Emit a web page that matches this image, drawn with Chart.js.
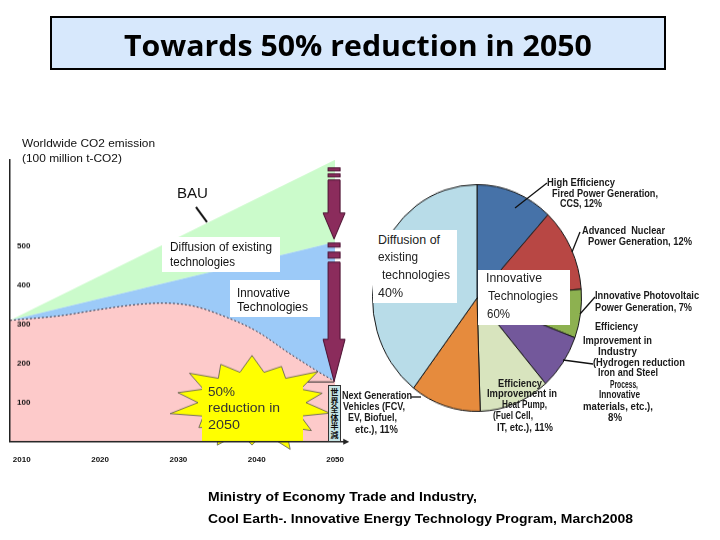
<!DOCTYPE html>
<html><head><meta charset="utf-8">
<script src="https://cdn.jsdelivr.net/npm/chart.js@4.4.0/dist/chart.umd.min.js"></script>
<style>
html,body{margin:0;padding:0;background:#fff;}
#page{position:relative;width:720px;height:540px;overflow:hidden;font-family:"Liberation Sans",Arial,sans-serif;}
.abs{position:absolute;}
.t{position:absolute;white-space:pre;transform-origin:0 50%;line-height:1;}
.wbox{position:absolute;background:#fff;}
#title{position:absolute;left:50px;top:16px;width:612px;height:50px;border:2px solid #000;background:#d7e8fc;}
#cjk{position:absolute;left:328px;top:385px;width:11px;height:55px;background:#c6e4e4;border:1px solid #333;
 writing-mode:vertical-rl;font-family:"Noto Sans CJK JP",sans-serif;font-size:8px;font-weight:bold;line-height:11px;text-align:center;color:#111;letter-spacing:0.5px;}
</style></head>
<body><div id="page">
<div id="title"></div>
<div id="leftWrap" class="abs" style="left:0px;top:150px;width:352px;height:300px;"><canvas id="area"></canvas></div>
<div id="pieWrap" class="abs" style="left:372px;top:193px;width:210px;height:210px;transform:scaleY(1.085);transform-origin:50% 50%;"><canvas id="pie"></canvas></div>
<svg class="abs" style="left:0;top:0" width="720" height="540">
 <g stroke="#111" stroke-width="1.3" fill="none">
  <line x1="515" y1="208" x2="547" y2="183"/>
  <line x1="580" y1="232" x2="572" y2="252"/>
  <line x1="595" y1="297" x2="580" y2="314"/>
  <line x1="563" y1="360" x2="593" y2="364"/>
  <line x1="411" y1="397" x2="421" y2="397"/>
 </g>
</svg>
<div class="wbox" style="left:162px;top:237px;width:118px;height:35px;"></div>
<div class="wbox" style="left:230px;top:280px;width:90px;height:37px;"></div>
<div class="wbox" style="left:373px;top:230px;width:84px;height:73px;"></div>
<div class="wbox" style="left:478px;top:270px;width:92px;height:55px;"></div>
<div id="cjk">世界全体半減</div>
<div id="texts"></div>
</div>
<script>
// ---- data ----
const xTicks = [2010, 2020, 2030, 2040, 2050];
const yTicks = [100, 200, 300, 400, 500];
const bauYears = [2008.5, 2050];
const bauValues = [310, 720];
const existYears = [2008.5, 2050];
const existValues = [310, 510];
const innovYears = [2008.5, 2015, 2020, 2025, 2028, 2032, 2036, 2040, 2044, 2048, 2050];
const innovValues = [310, 322, 338, 351, 354, 346, 319, 282, 228, 177, 154];

const pieLabels = ["High Efficiency Fired Power Generation, CCS", "Advanced Nuclear Power Generation",
  "Innovative Photovoltaic Power Generation", "Efficiency Improvement in Industry",
  "Efficiency Improvement in Heat Pump", "Next Generation Vehicles", "Diffusion of existing technologies"];
const pieValues = [12, 12, 7, 8, 11, 11, 40];
const pieColors = ["#4672a8", "#b84744", "#8db150", "#73589b", "#d8e4be", "#e68b3d", "#b8dce8"];

// ---- text layout: [text, left, right, centerY, size, weight, color, family] ----
const F = '"Liberation Sans",Arial,sans-serif';
const textItems = [
 ["Towards 50% reduction in 2050", 124, 592, 44, 29, 700, "#000", '"Open Sans",sans-serif'],
 ["Worldwide CO2 emission", 22, 155, 143, 11, 400, "#111", F],
 ["(100 million t-CO2)", 22, 122, 158, 11, 400, "#111", F],
 ["BAU", 177, 208, 192, 15, 400, "#111", F],
 ["Diffusion of existing", 170, 272, 247, 12, 400, "#111", F],
 ["technologies", 170, 235, 262, 12, 400, "#111", F],
 ["Innovative", 237, 290, 293, 12, 400, "#111", F],
 ["Technologies", 237, 308, 307, 12, 400, "#111", F],
 ["50%", 208, 235, 391, 13, 400, "#333", F],
 ["reduction in", 208, 280, 407, 13, 400, "#333", F],
 ["2050", 208, 240, 424, 13, 400, "#333", F],
 ["Diffusion of", 378, 440, 240, 12, 400, "#222", F],
 ["existing", 378, 418, 257, 12, 400, "#222", F],
 ["technologies", 382, 450, 275, 12, 400, "#222", F],
 ["40%", 378, 403, 293, 12, 400, "#222", F],
 ["Innovative", 486, 542, 278, 12, 400, "#222", F],
 ["Technologies", 488, 558, 296, 12, 400, "#222", F],
 ["60%", 487, 510, 314, 12, 400, "#222", F],
 ["High Efficiency", 547, 615, 183, 10, 700, "#1a1a1a", F],
 ["Fired Power Generation,", 552, 658, 194, 10, 700, "#1a1a1a", F],
 ["CCS, 12%", 560, 602, 204, 10, 700, "#1a1a1a", F],
 ["Advanced  Nuclear", 582, 665, 231, 10, 700, "#1a1a1a", F],
 ["Power Generation, 12%", 588, 692, 242, 10, 700, "#1a1a1a", F],
 ["Innovative Photovoltaic", 595, 699, 296, 10, 700, "#1a1a1a", F],
 ["Power Generation, 7%", 595, 692, 308, 10, 700, "#1a1a1a", F],
 ["Efficiency", 595, 638, 327, 10, 700, "#1a1a1a", F],
 ["Improvement in", 583, 652, 341, 10, 700, "#1a1a1a", F],
 ["Industry", 598, 637, 352, 10, 700, "#1a1a1a", F],
 ["(Hydrogen reduction", 593, 685, 363, 10, 700, "#1a1a1a", F],
 ["Iron and Steel", 598, 658, 373, 10, 700, "#1a1a1a", F],
 ["Process,", 610, 638, 385, 10, 700, "#1a1a1a", F],
 ["Innovative", 599, 640, 395, 10, 700, "#1a1a1a", F],
 ["materials, etc.),", 583, 653, 407, 10, 700, "#1a1a1a", F],
 ["8%", 608, 622, 418, 10, 700, "#1a1a1a", F],
 ["Efficiency", 498, 542, 384, 10, 700, "#1a1a1a", F],
 ["Improvement in", 487, 557, 394, 10, 700, "#1a1a1a", F],
 ["Heat Pump,", 502, 547, 405, 10, 700, "#1a1a1a", F],
 ["(Fuel Cell,", 493, 533, 416, 10, 700, "#1a1a1a", F],
 ["IT, etc.), 11%", 497, 553, 428, 10, 700, "#1a1a1a", F],
 ["Next Generation", 342, 412, 396, 10, 700, "#1a1a1a", F],
 ["Vehicles (FCV,", 343, 405, 407, 10, 700, "#1a1a1a", F],
 ["EV, Biofuel,", 348, 397, 418, 10, 700, "#1a1a1a", F],
 ["etc.), 11%", 355, 398, 430, 10, 700, "#1a1a1a", F],
 ["Ministry of Economy Trade and Industry,", 208, 477, 496, 13, 700, "#000", F],
 ["Cool Earth-. Innovative Energy Technology Program, March2008", 208, 633, 518, 13, 700, "#000", F]
];

const holder = document.getElementById('texts');
const spans = textItems.map(it => {
  const s = document.createElement('span');
  s.className = 't';
  s.textContent = it[0];
  s.style.left = it[1] + 'px';
  s.style.top = (it[3] - it[4] / 2) + 'px';
  s.style.fontSize = it[4] + 'px';
  s.style.fontWeight = it[5];
  s.style.color = it[6];
  s.style.fontFamily = it[7];
  holder.appendChild(s);
  return s;
});
function fitTexts() {
  spans.forEach((s, i) => {
    const it = textItems[i];
    s.style.transform = 'none';
    const w = s.getBoundingClientRect().width;
    let k = (it[2] - it[1]) / w;
    k = Math.max(0.6, Math.min(1.6, k));
    s.style.transform = 'scaleX(' + k.toFixed(3) + ')';
  });
}

// page coordinates relative to chart area origin (page x=10 left edge, y=441 bottom)
function P(chart, X, Y) {
  const ca = chart.chartArea;
  return [ca.left + X - 10, ca.bottom + Y - 441];
}

function drawArrow(ctx, x, top, tip, stripes, shaftStart, headLen) {
  const sh = 6, hh = 11;
  ctx.save();
  ctx.fillStyle = '#8b2c5c';
  ctx.strokeStyle = '#4a1030';
  ctx.lineWidth = 1;
  stripes.forEach(s => {
    ctx.fillRect(x - sh, top + s[0], sh * 2, s[1] - s[0]);
    ctx.strokeRect(x - sh, top + s[0], sh * 2, s[1] - s[0]);
  });
  const hs = tip - headLen;
  ctx.beginPath();
  ctx.moveTo(x - sh, top + shaftStart);
  ctx.lineTo(x + sh, top + shaftStart);
  ctx.lineTo(x + sh, hs);
  ctx.lineTo(x + hh, hs);
  ctx.lineTo(x, tip);
  ctx.lineTo(x - hh, hs);
  ctx.lineTo(x - sh, hs);
  ctx.closePath();
  ctx.fill();
  ctx.stroke();
  ctx.restore();
}

const deco = {
  id: 'deco',
  afterDatasetsDraw(chart) {
    const ctx = chart.ctx;
    const xs = chart.scales.x, ys = chart.scales.y;
    const ax = xs.getPixelForValue(2050) - 1;
    const yB = ys.getPixelForValue(bauValues[1]);
    const yE = ys.getPixelForValue(existValues[1]);
    const yI = ys.getPixelForValue(innovValues[innovValues.length - 1]);
    // 50% level line
    ctx.save();
    ctx.strokeStyle = '#222'; ctx.lineWidth = 1;
    let a = P(chart, 300, 0);
    ctx.beginPath(); ctx.moveTo(a[0], yI + 0.5); ctx.lineTo(ax, yI + 0.5); ctx.stroke();
    ctx.restore();
    drawArrow(ctx, ax, yB + 8, yE - 3, [[0, 3], [6, 9]], 12, 26);
    drawArrow(ctx, ax, yE + 1, yI, [[0, 4], [9, 15]], 19, 42);
    // starburst
    const c = P(chart, 252, 402);
    const outer = [1.0, 0.85, 1.05, 0.9, 1.0, 0.95, 1.1, 0.9, 1.0, 0.85, 1.05, 0.95, 1.0, 0.9];
    const n = outer.length;
    ctx.save();
    ctx.beginPath();
    for (let i = 0; i < n; i++) {
      const ao = (i / n) * Math.PI * 2 - Math.PI / 2;
      const ai = ao + Math.PI / n;
      const px = c[0] + Math.cos(ao) * 80 * outer[i], py = c[1] + Math.sin(ao) * 47 * outer[i];
      const qx = c[0] + Math.cos(ai) * 54, qy = c[1] + Math.sin(ai) * 31;
      if (i === 0) ctx.moveTo(px, py); else ctx.lineTo(px, py);
      ctx.lineTo(qx, qy);
    }
    ctx.closePath();
    ctx.fillStyle = '#ffff00';
    ctx.fill();
    ctx.strokeStyle = '#555'; ctx.lineWidth = 0.8;
    ctx.stroke();
    const r0 = P(chart, 202, 380);
    ctx.fillRect(r0[0], r0[1], 101, 61);
    // BAU pointer
    const b1 = P(chart, 196, 207), b2 = P(chart, 207, 222);
    ctx.strokeStyle = '#111'; ctx.lineWidth = 2;
    ctx.beginPath(); ctx.moveTo(b1[0], b1[1]); ctx.lineTo(b2[0], b2[1]); ctx.stroke();
    // x-axis arrowhead
    const ca = chart.chartArea;
    ctx.fillStyle = '#222';
    ctx.beginPath();
    ctx.moveTo(ca.right + 4, ca.bottom);
    ctx.lineTo(ca.right - 2, ca.bottom - 3);
    ctx.lineTo(ca.right - 2, ca.bottom + 3);
    ctx.closePath(); ctx.fill();
    ctx.restore();
  }
};

const toXY = (xsArr, vs) => xsArr.map((x, i) => ({x: x, y: vs[i]}));

const areaChart = new Chart(document.getElementById('area'), {
  type: 'line',
  data: {
    datasets: [
      { label: 'Innovative', data: toXY(innovYears, innovValues), fill: 'origin',
        backgroundColor: '#fdcaca', borderColor: '#334', borderWidth: 1, borderDash: [2, 2],
        pointRadius: 0, cubicInterpolationMode: 'monotone' },
      { label: 'Existing', data: toXY(existYears, existValues), fill: '-1',
        backgroundColor: '#9ccaf8', borderWidth: 0, borderColor: 'rgba(0,0,0,0)', pointRadius: 0 },
      { label: 'BAU', data: toXY(bauYears, bauValues), fill: '-1',
        backgroundColor: '#cbfbcb', borderWidth: 0, borderColor: 'rgba(0,0,0,0)', pointRadius: 0 }
    ]
  },
  options: {
    responsive: true, maintainAspectRatio: false, animation: false,
    layout: { padding: { left: 0, right: 0, top: 0, bottom: 0 } },
    plugins: { legend: { display: false }, tooltip: { enabled: false } },
    scales: {
      x: { type: 'linear', min: 2008.5, max: 2051.3, z: 1,
        afterBuildTicks: s => { s.ticks = xTicks.map(v => ({value: v})); },
        grid: { display: false },
        border: { display: true, color: '#222', width: 1.5, z: 1 },
        ticks: { z: 1, autoSkip: false, maxRotation: 0, padding: 5, color: '#111',
          font: { size: 8, weight: 'bold', family: 'Liberation Sans' }, callback: v => String(v) } },
      y: { type: 'linear', min: 0, max: 720, z: 1,
        afterBuildTicks: s => { s.ticks = yTicks.map(v => ({value: v})); },
        grid: { display: false },
        border: { display: true, color: '#222', width: 1.5, z: 1 },
        ticks: { z: 1, mirror: true, padding: 7, color: '#111', autoSkip: false,
          font: { size: 8, weight: 'bold', family: 'Liberation Sans' }, callback: v => String(v) } }
    }
  },
  plugins: [deco]
});

(function align() {
  const wrap = document.getElementById('leftWrap');
  const ca = areaChart.chartArea;
  const w = wrap.offsetWidth, h = wrap.offsetHeight;
  wrap.style.width = (w + 335 - (ca.right - ca.left)) + 'px';
  wrap.style.height = (h + 281 - (ca.bottom - ca.top)) + 'px';
  areaChart.resize();
  const cb = areaChart.chartArea;
  wrap.style.left = (10 - cb.left) + 'px';
  wrap.style.top = (441 - cb.bottom) + 'px';
})();

new Chart(document.getElementById('pie'), {
  type: 'pie',
  data: { labels: pieLabels, datasets: [{ data: pieValues, backgroundColor: pieColors,
    borderColor: '#1a1a1a', borderWidth: 1 }] },
  options: { responsive: true, maintainAspectRatio: false, animation: false,
    layout: { padding: 0 },
    plugins: { legend: { display: false }, tooltip: { enabled: false } } }
});

fitTexts();
if (document.fonts && document.fonts.ready) document.fonts.ready.then(fitTexts);
</script>
</body></html>
